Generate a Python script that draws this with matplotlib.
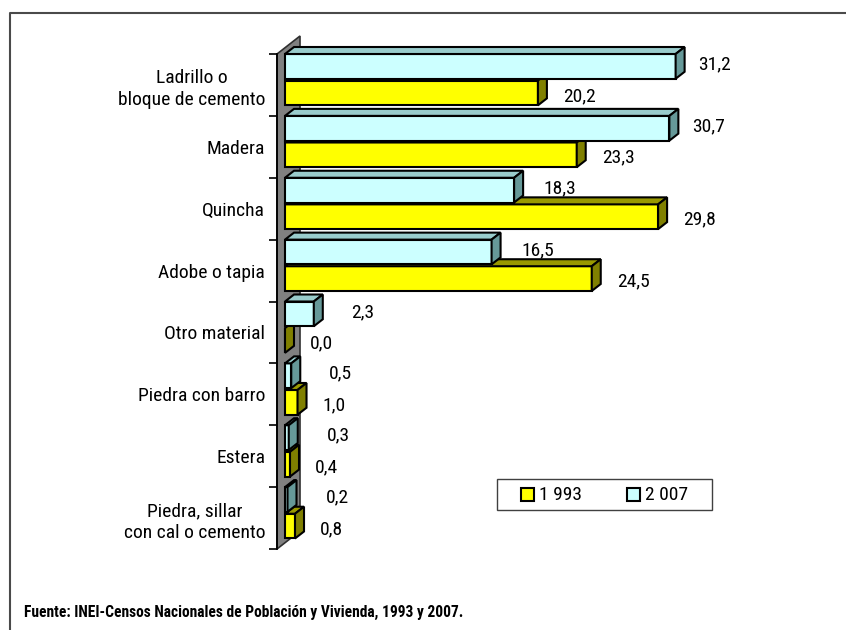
import matplotlib
matplotlib.use("Agg")
import matplotlib.pyplot as plt
from matplotlib.patches import Polygon, Rectangle
from matplotlib.lines import Line2D

categories = ["Ladrillo o\nbloque de cemento", "Madera", "Quincha", "Adobe o tapia",
              "Otro material", "Piedra con barro", "Estera",
              "Piedra, sillar\ncon cal o cemento"]
values_2007 = [31.2, 30.7, 18.3, 16.5, 2.3, 0.5, 0.3, 0.2]
values_1993 = [20.2, 23.3, 29.8, 24.5, 0.0, 1.0, 0.4, 0.8]
series_names = ["1 993", "2 007"]
source_note = "Fuente: INEI-Censos Nacionales de Población y Vivienda, 1993 y 2007."

FONT = ["Roboto Condensed", "DejaVu Sans"]
plt.rcParams["font.family"] = FONT

W, H = 846, 630
SX = 12.52          # pixels per percentage point
SY = 61.875         # pixels per category band

# fake 3D geometry, expressed in data units
BAR_X0 = 8 / SX                  # bars sit a little behind the front plane
DEPTH = (9 / SX, -7 / SY)        # bar depth vector
WALL = (23 / SX, -18 / SY)       # side wall depth vector
BAR_H = 0.40

# colours (front, top, side)
C2007 = ("#CCFFFF", "#99CCCC", "#669999")
C1993 = ("#FFFF00", "#999900", "#808000")


def px(x, y):
    return x / W, 1 - y / H


fig = plt.figure(figsize=(W / 100, H / 100), dpi=100)
left, top = px(277, 54)
_, bottom = px(0, 549)
ax = fig.add_axes([left, bottom, 40 * SX / W, top - bottom])
ax.set_xlim(0, 40)
ax.set_ylim(len(categories), 0)
ax.patch.set_visible(False)
for s in ["top", "right", "bottom"]:
    ax.spines[s].set_visible(False)
ax.spines["left"].set_linewidth(1.3)
ax.spines["left"].set_zorder(5)
ax.set_xticks([])

# category boundaries get the tick marks, labels sit in the middle
ax.set_yticks(range(len(categories) + 1))
ax.set_yticklabels([])
ax.set_yticks([i + 0.5 for i in range(len(categories))], minor=True)
ax.set_yticklabels(categories, minor=True, fontsize=14, multialignment="center",
                   linespacing=1.3)
ax.tick_params(axis="y", which="major", length=6, width=1.2)
ax.tick_params(axis="y", which="minor", length=0, pad=8.6)

# left wall
n = len(categories)
wall = Polygon([(0, n), (0, 0), (WALL[0], WALL[1]), (WALL[0], n + WALL[1])],
               closed=True, facecolor="#808080", edgecolor="#303030", lw=1.2,
               zorder=1, clip_on=False)
ax.add_patch(wall)


def draw_bar(y0, v, colors, z):
    x0 = BAR_X0
    dx, dy = DEPTH
    ax.barh(y0, v, left=x0, height=BAR_H, align="edge", color=colors[0],
            edgecolor="black", lw=1.5, zorder=z, clip_on=False)
    top_face = Polygon([(x0, y0), (x0 + v, y0), (x0 + v + dx, y0 + dy), (x0 + dx, y0 + dy)],
                       closed=True, facecolor=colors[1], edgecolor="black", lw=1.5,
                       zorder=z, clip_on=False)
    side_face = Polygon([(x0 + v, y0), (x0 + v + dx, y0 + dy),
                         (x0 + v + dx, y0 + BAR_H + dy), (x0 + v, y0 + BAR_H)],
                        closed=True, facecolor=colors[2], edgecolor="black", lw=1.5,
                        zorder=z, clip_on=False)
    ax.add_patch(top_face)
    ax.add_patch(side_face)


def fmt(v):
    return f"{v:.1f}".replace(".", ",")


for i in range(n):
    y_cyan = i
    y_yell = i + 0.43
    # lower series first so the upper one covers its top face
    draw_bar(y_yell, values_1993[i], C1993, 2 + i * 0.01)
    draw_bar(y_cyan, values_2007[i], C2007, 3 + i * 0.01)

    # labels of the back series drift closer to long bars
    gap_2007 = (38 - 0.5 * values_2007[i]) / SX
    gap_1993 = 25 / SX
    ax.text(BAR_X0 + values_2007[i] + gap_2007, y_cyan + BAR_H / 2 - 2 / SY,
            fmt(values_2007[i]), fontsize=14, va="center", ha="left", zorder=6)
    ax.text(BAR_X0 + values_1993[i] + gap_1993, y_yell + BAR_H / 2 + 3 / SY,
            fmt(values_1993[i]), fontsize=14, va="center", ha="left", zorder=6)

# legend box
lx0, ly0 = px(497, 510)
lx1, ly1 = px(712, 479)
fig.patches.append(Rectangle((lx0, ly0), lx1 - lx0, ly1 - ly0, transform=fig.transFigure,
                             facecolor="white", edgecolor="#404040", lw=1.0))
for name, colors, sx_px in zip(series_names, [C1993, C2007], [521, 627]):
    qx, qy = px(sx_px, 501)
    fig.patches.append(Rectangle((qx, qy), 13 / W, 13 / H, transform=fig.transFigure,
                                 facecolor=colors[0], edgecolor="black", lw=1.5))
    tx, ty = px(sx_px + 18, 494.5)
    fig.text(tx, ty, name, fontsize=14, va="center", ha="left")

# source note
fx, fy = px(24, 612)
fig.text(fx, fy, source_note, fontsize=11.2, fontweight="bold", va="center", ha="left")

# outer frame (top and left only)
fig.lines.append(Line2D([10 / W, 10 / W, 1], [0, 1 - 13 / H, 1 - 13 / H],
                        transform=fig.transFigure, color="#4a4a4a", lw=1.5))

fig.savefig("out.png", dpi=100)
